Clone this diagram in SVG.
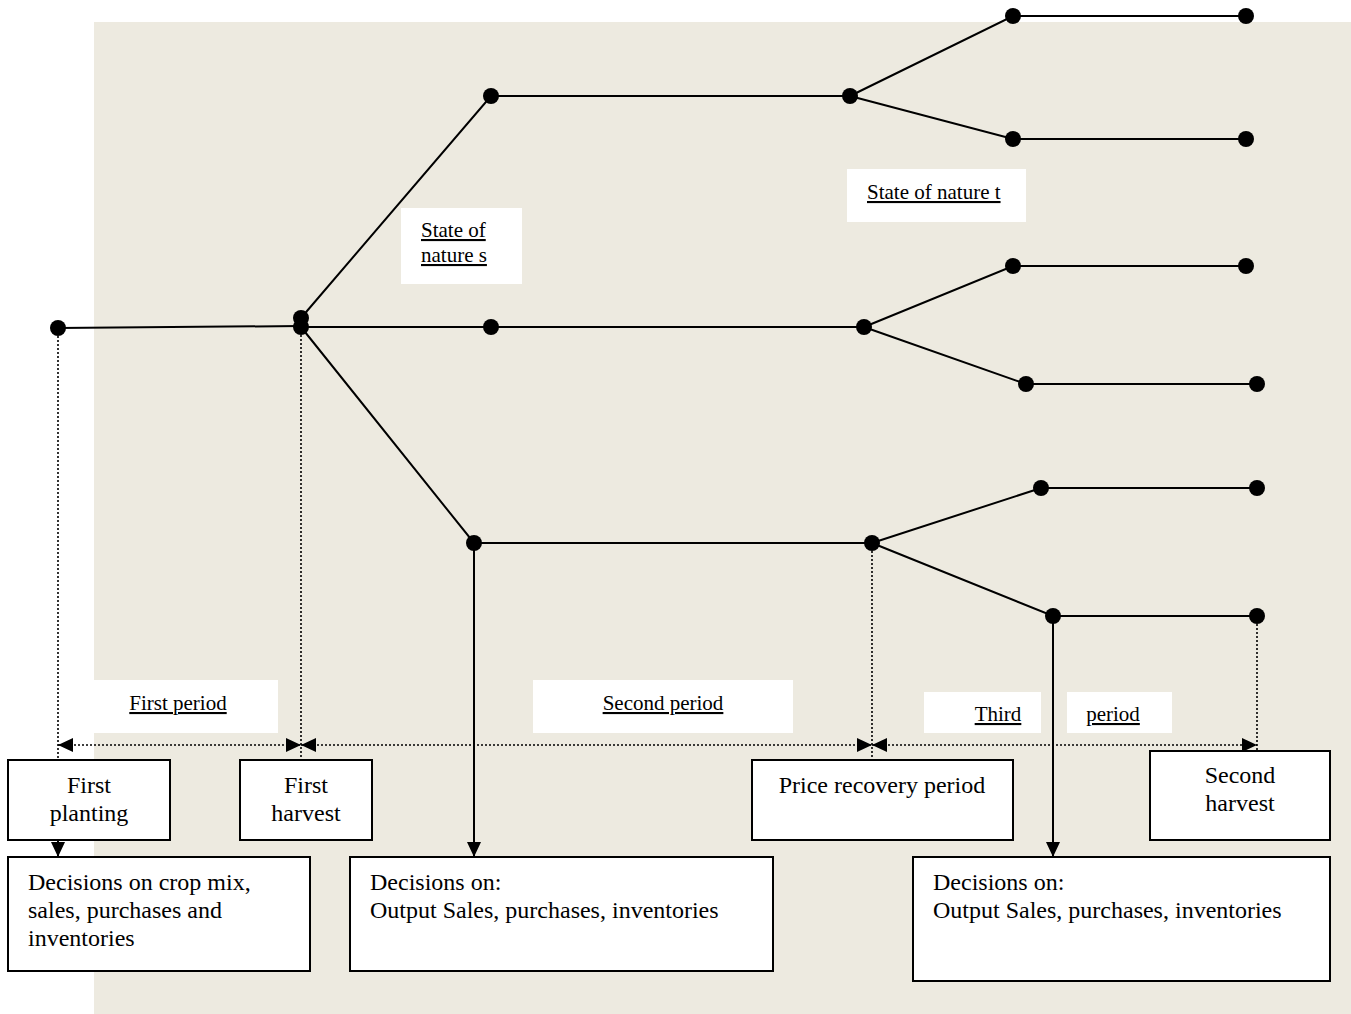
<svg xmlns="http://www.w3.org/2000/svg" width="1351" height="1014" viewBox="0 0 1351 1014">
<defs>
<style>
.ln{stroke:#000;stroke-width:2;fill:none}
.dt{stroke:#000;stroke-width:1.6;stroke-dasharray:2,2;fill:none}
.dot{fill:#000}
.box{fill:#fff;stroke:#000;stroke-width:2}
.lbl{fill:#fff}
.t{font-family:"Liberation Serif","Times New Roman",serif;font-size:24px;fill:#000}
.u{font-family:"Liberation Serif","Times New Roman",serif;font-size:21px;fill:#000;text-decoration:underline}
</style>
<marker id="ah" viewBox="0 0 15 14" refX="15" refY="7" markerWidth="15" markerHeight="14" markerUnits="userSpaceOnUse" orient="auto-start-reverse">
<path d="M0,0 L15,7 L0,14 Z" fill="#000"/>
</marker>
</defs>
<rect x="94" y="22" width="1257" height="992" fill="#EDEAE0"/>

<g id="labels">
<rect class="lbl" x="94" y="680" width="184" height="53"/>
<text class="u" x="178" y="710" text-anchor="middle">First period</text>
<rect class="lbl" x="533" y="680" width="260" height="53"/>
<text class="u" x="663" y="710" text-anchor="middle">Second period</text>
<rect class="lbl" x="924" y="692" width="117" height="41"/>
<text class="u" x="998" y="721" text-anchor="middle">Third</text>
<rect class="lbl" x="1067" y="692" width="105" height="41"/>
<text class="u" x="1113" y="721" text-anchor="middle">period</text>
<rect class="lbl" x="401" y="208" width="121" height="76"/>
<text class="u" x="421" y="237">State of</text>
<text class="u" x="421" y="262">nature s</text>
<rect class="lbl" x="847" y="169" width="179" height="53"/>
<text class="u" x="867" y="199">State of nature t</text>
</g>

<g id="connectors">
<path class="ln" d="M58,328 L301,326"/>
<path class="ln" d="M301,318 L491,96 L850,96"/>
<path class="ln" d="M850,96 L1013,16 L1246,16"/>
<path class="ln" d="M850,96 L1013,139 L1246,139"/>
<path class="ln" d="M301,327 L864,327"/>
<path class="ln" d="M864,327 L1013,266 L1246,266"/>
<path class="ln" d="M864,327 L1026,384 L1257,384"/>
<path class="ln" d="M301,327 L474,543 L872,543"/>
<path class="ln" d="M872,543 L1041,488 L1257,488"/>
<path class="ln" d="M872,543 L1053,616 L1257,616"/>
<path class="ln" d="M474,543 L474,857" marker-end="url(#ah)"/>
<path class="ln" d="M1053,616 L1053,857" marker-end="url(#ah)"/>
<path class="dt" d="M58,336 L58,760"/>
<path class="dt" d="M301,335 L301,760"/>
<path class="dt" d="M872,551 L872,760"/>
<path class="dt" d="M1257,624 L1257,750"/>
<path class="dt" d="M58,745 L301,745" marker-start="url(#ah)" marker-end="url(#ah)"/>
<path class="dt" d="M301,745 L872,745" marker-start="url(#ah)" marker-end="url(#ah)"/>
<path class="dt" d="M872,745 L1257,745" marker-start="url(#ah)" marker-end="url(#ah)"/>
<path class="ln" d="M58,841 L58,857" marker-end="url(#ah)"/>
</g>

<g id="dots">
<circle class="dot" cx="58" cy="328" r="8"/>
<circle class="dot" cx="301" cy="318" r="8"/>
<circle class="dot" cx="301" cy="327" r="8"/>
<circle class="dot" cx="491" cy="96" r="8"/>
<circle class="dot" cx="850" cy="96" r="8"/>
<circle class="dot" cx="1013" cy="16" r="8"/>
<circle class="dot" cx="1246" cy="16" r="8"/>
<circle class="dot" cx="1013" cy="139" r="8"/>
<circle class="dot" cx="1246" cy="139" r="8"/>
<circle class="dot" cx="491" cy="327" r="8"/>
<circle class="dot" cx="864" cy="327" r="8"/>
<circle class="dot" cx="1013" cy="266" r="8"/>
<circle class="dot" cx="1246" cy="266" r="8"/>
<circle class="dot" cx="1026" cy="384" r="8"/>
<circle class="dot" cx="1257" cy="384" r="8"/>
<circle class="dot" cx="474" cy="543" r="8"/>
<circle class="dot" cx="872" cy="543" r="8"/>
<circle class="dot" cx="1041" cy="488" r="8"/>
<circle class="dot" cx="1257" cy="488" r="8"/>
<circle class="dot" cx="1053" cy="616" r="8"/>
<circle class="dot" cx="1257" cy="616" r="8"/>
</g>

<g id="first-planting">
<rect class="box" x="8" y="760" width="162" height="80"/>
<text class="t" x="89" y="793" text-anchor="middle">First</text>
<text class="t" x="89" y="821" text-anchor="middle">planting</text>
</g>
<g id="first-harvest">
<rect class="box" x="240" y="760" width="132" height="80"/>
<text class="t" x="306" y="793" text-anchor="middle">First</text>
<text class="t" x="306" y="821" text-anchor="middle">harvest</text>
</g>
<g id="price-recovery">
<rect class="box" x="752" y="760" width="261" height="80"/>
<text class="t" x="882" y="793" text-anchor="middle">Price recovery period</text>
</g>
<g id="second-harvest">
<rect class="box" x="1150" y="751" width="180" height="89"/>
<text class="t" x="1240" y="783" text-anchor="middle">Second</text>
<text class="t" x="1240" y="811" text-anchor="middle">harvest</text>
</g>
<g id="decisions-1">
<rect class="box" x="8" y="857" width="302" height="114"/>
<text class="t" x="28" y="890">Decisions on crop mix,</text>
<text class="t" x="28" y="918">sales, purchases and</text>
<text class="t" x="28" y="946">inventories</text>
</g>
<g id="decisions-2">
<rect class="box" x="350" y="857" width="423" height="114"/>
<text class="t" x="370" y="890">Decisions on:</text>
<text class="t" x="370" y="918">Output Sales, purchases, inventories</text>
</g>
<g id="decisions-3">
<rect class="box" x="913" y="857" width="417" height="124"/>
<text class="t" x="933" y="890">Decisions on:</text>
<text class="t" x="933" y="918">Output Sales, purchases, inventories</text>
</g>
</svg>
